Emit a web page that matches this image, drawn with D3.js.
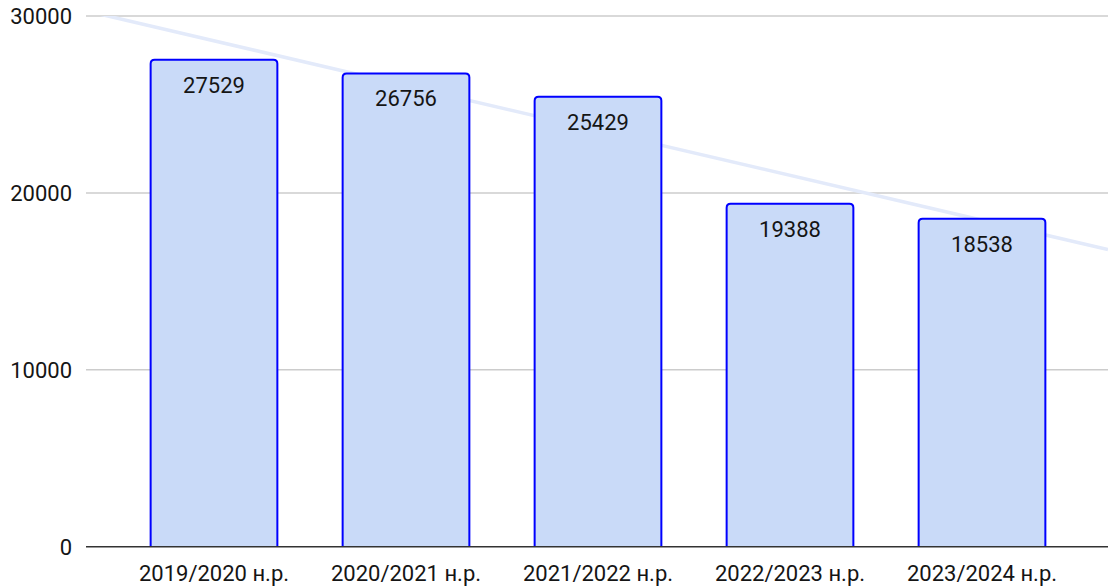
<!DOCTYPE html>
<html><head><meta charset="utf-8">
<script src="https://cdn.jsdelivr.net/npm/d3@7"></script>
<style>body{margin:0;background:#fff}svg{display:block}</style>
</head><body>
<svg id="c" width="1108" height="586"></svg>
<script>
const categories = ["2019/2020 н.р.","2020/2021 н.р.","2021/2022 н.р.","2022/2023 н.р.","2023/2024 н.р."];
const values = [27529, 26756, 25429, 19388, 18538];
const yTicks = [0, 10000, 20000, 30000];

const W = 1108, H = 586;
const plot = {left: 86, right: 1108, top: 16, bottom: 546.7};
const svg = d3.select("#c");
const font = "Roboto, 'Noto Sans', sans-serif";
const txt = "#151515";

const x = d3.scaleBand().domain(categories).range([118, 1078]).paddingInner(0.34).paddingOuter(0.17);
const y = d3.scaleLinear().domain([0, 30000]).range([plot.bottom, plot.top]);

// gridlines
svg.append("g").selectAll("line").data(yTicks.filter(d => d !== 0)).join("line")
  .attr("x1", plot.left).attr("x2", plot.right)
  .attr("y1", d => y(d)).attr("y2", d => y(d))
  .attr("stroke", "#cccccc").attr("stroke-width", 1.5);

// y labels
svg.append("g").selectAll("text").data(yTicks).join("text")
  .attr("x", 72).attr("y", d => y(d) + 8)
  .attr("text-anchor", "end").attr("font-family", font).attr("font-size", 22).attr("fill", txt)
  .text(d => d);

// trendline (least squares over category index)
const n = values.length;
const xs = d3.range(n);
const mx = d3.mean(xs), my = d3.mean(values);
const slope = d3.sum(xs, (d, i) => (d - mx) * (values[i] - my)) / d3.sum(xs, d => (d - mx) ** 2);
const icpt = my - slope * mx;
const step = x.step();
const c0 = x(categories[0]) + x.bandwidth() / 2;
const valAtPx = px => icpt + slope * (px - c0) / step;
svg.append("clipPath").attr("id", "pc").append("rect")
  .attr("x", plot.left).attr("y", plot.top).attr("width", plot.right - plot.left).attr("height", plot.bottom - plot.top);
svg.append("line").attr("clip-path", "url(#pc)")
  .attr("x1", plot.left).attr("y1", y(valAtPx(plot.left)))
  .attr("x2", plot.right).attr("y2", y(valAtPx(plot.right)))
  .attr("stroke", "#e3eafa").attr("stroke-width", 3.5);

// bars with rounded top corners
const r = 4;
function barPath(x0, w, yt, yb) {
  return `M${x0},${yb}V${yt + r}Q${x0},${yt} ${x0 + r},${yt}H${x0 + w - r}Q${x0 + w},${yt} ${x0 + w},${yt + r}V${yb}`;
}
svg.append("g").selectAll("path").data(values).join("path")
  .attr("d", (d, i) => barPath(x(categories[i]), x.bandwidth(), y(d), y(0)))
  .attr("fill", "#c9daf8")
  .attr("stroke", "#0000ff").attr("stroke-width", 2);

// value labels
svg.append("g").selectAll("text").data(values).join("text")
  .attr("x", (d, i) => x(categories[i]) + x.bandwidth() / 2)
  .attr("y", d => y(d) + 33)
  .attr("text-anchor", "middle").attr("font-family", font).attr("font-size", 22).attr("fill", txt)
  .text(d => d);

// baseline
svg.append("line").attr("x1", plot.left).attr("x2", plot.right)
  .attr("y1", y(0)).attr("y2", y(0)).attr("stroke", "#333").attr("stroke-width", 1.5);

// category labels
svg.append("g").selectAll("text").data(categories).join("text")
  .attr("x", d => x(d) + x.bandwidth() / 2).attr("y", 581)
  .attr("text-anchor", "middle").attr("font-family", font).attr("font-size", 22).attr("fill", txt)
  .text(d => d);
</script>
</body></html>
